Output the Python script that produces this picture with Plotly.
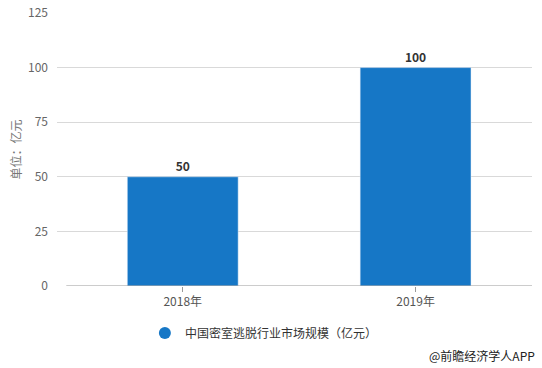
import plotly.graph_objects as go

categories = ["2018年", "2019年"]
values = [50, 100]
series_name = "中国密室逃脱行业市场规模（亿元）"
y_ticks = [0, 25, 50, 75, 100, 125]
y_title = "单位：亿元"
footer = "@前瞻经济学人APP"

BLUE = "#1677C6"
FONT = "Microsoft YaHei, Noto Sans CJK SC, sans-serif"

fig = go.Figure()
fig.add_trace(go.Bar(
    x=[0, 1], y=values, marker_color=BLUE, width=0.476,
    text=[str(v) for v in values], textposition="outside",
    textfont=dict(size=12, color="#333", family=FONT, weight="bold"),
    cliponaxis=False, showlegend=False,
))
fig.add_trace(go.Scatter(
    x=[None], y=[None], mode="markers", name=series_name,
    marker=dict(symbol="circle", size=12, color=BLUE),
))
fig.add_shape(type="line", xref="x", yref="y", x0=-0.5, x1=1.5, y0=0, y1=0,
              line=dict(color="#999", width=1))
fig.update_layout(
    width=542, height=368,
    margin=dict(l=57, r=10, t=13, b=82, autoexpand=False),
    plot_bgcolor="white", paper_bgcolor="white",
    font=dict(family=FONT, size=12, color="#666"),
    bargap=0.52,
    xaxis=dict(range=[-0.54, 1.5], tickvals=[0, 1], ticktext=categories,
               showgrid=False, zeroline=False, showline=False,
               ticks="outside", ticklen=5, tickcolor="#999",
               tickfont=dict(size=12, color="#555")),
    yaxis=dict(range=[0, 125], tickvals=y_ticks, showgrid=True,
               gridcolor="#d9d9d9", zeroline=False, showline=False,
               ticks="", ticklabelstandoff=8,
               tickfont=dict(size=12, color="#666"),
               title=dict(text=y_title, font=dict(size=12, color="#777"), standoff=3)),
    legend=dict(orientation="h", x=0.185, y=-0.172, xanchor="left", yanchor="middle",
                font=dict(size=12, color="#333"), itemsizing="constant"),
    annotations=[dict(text=footer, xref="paper", yref="paper", x=1.01, y=-0.253,
                      xanchor="right", yanchor="middle", showarrow=False,
                      font=dict(size=12, color="#222"))],
)
fig.write_html("out.html", config={"displayModeBar": False},
               post_script="document.body.style.margin='0';")
